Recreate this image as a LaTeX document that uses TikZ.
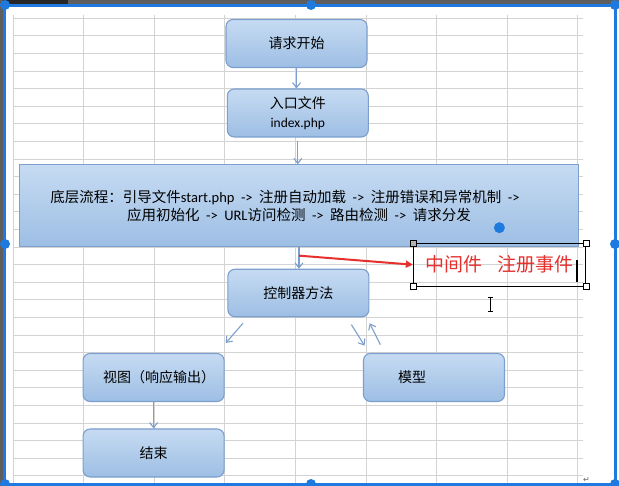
\documentclass[tikz,border=0pt]{standalone}
\usepackage{fontspec}
\setmainfont{Carlito}
\newfontfamily\cjk{Noto Sans CJK SC}
\newfontfamily\symfont{DejaVu Sans}
\usetikzlibrary{arrows.meta,calc}
\definecolor{boxtop}{HTML}{C6DBF2}
\definecolor{boxbot}{HTML}{9DBEE4}
\definecolor{boxline}{HTML}{7C9FCD}
\definecolor{arrowc}{HTML}{7E9FCC}
\definecolor{gridc}{HTML}{D3D3D3}
\definecolor{selblue}{HTML}{1F7AE0}
\definecolor{notered}{HTML}{E5302D}
\definecolor{bargray}{HTML}{5E5E5E}
\newcommand\flowto{\hspace{6.5pt}->\hspace{6.5pt}}
\tikzset{
  flowbox/.style={draw=boxline, line width=1.1pt, rounded corners=7pt,
    top color=boxtop, bottom color=boxbot, text=black,
    minimum width=141pt, minimum height=48pt, inner sep=0pt,
    font=\cjk\fontsize{14}{20}\selectfont, align=center},
  basebox/.style={draw=boxline, line width=1.1pt,
    top color=boxtop, bottom color=boxbot, text=black,
    minimum width=559pt, minimum height=82pt, inner sep=0pt,
    font=\fontsize{14.5}{17.5}\selectfont, align=center},
  flowarrow/.style={draw=arrowc, line width=1.1pt, -{Straight Barb[length=5pt,width=8pt]}},
  redarrow/.style={draw=notered, line width=2pt, -{Triangle[length=7pt,width=7pt]}},
  notebox/.style={draw=black, line width=0.9pt, minimum width=172.4pt, minimum height=42.7pt,
    inner sep=0pt, text=notered, font=\cjk\fontsize{19}{22}\selectfont},
  handle/.style={fill=selblue},
  sqhandle/.style={draw=black, fill=white, line width=0.7pt}
}
\begin{document}
\begin{tikzpicture}[x=1pt,y=-1pt]
\useasboundingbox (0,0) rectangle (619,486);
\fill[white] (0,0) rectangle (619,486);
% window chrome
\fill[bargray] (0,0) rectangle (619,4);
\fill[black!85] (0,0) rectangle (68,4);
\fill[bargray] (0,0) rectangle (3,486);
% grid
\foreach \k in {0,...,26} \draw[gridc, line width=0.9pt] (13,18.3+17.6*\k) -- (582.7,18.3+17.6*\k);
\foreach \k in {0,...,8} \draw[gridc, line width=0.9pt] (13+70.6*\k,15) -- (13+70.6*\k,483);
% selection frame
\draw[selblue, line width=2.6pt] (4.5,5.5) -- (615.5,5.5);
\draw[selblue, line width=2.6pt] (4.5,5.5) -- (4.5,486);
\draw[selblue, line width=2.6pt] (615.5,5.5) -- (615.5,486);
\draw[selblue, line width=2.6pt] (4.5,484.5) -- (619,484.5);
\foreach \p in {(5,5),(311,5),(615,5),(5,244),(615,244),(5,484),(311,484),(615,484)}
  \fill[handle] \p circle[radius=5pt];
% nodes
\node[flowbox] (start) at (296.5,43.5) {请求开始};
\node[flowbox] (entry) at (297.8,113) {入口文件\\[-1pt]{\rmfamily\fontsize{13.5}{20}\selectfont index.php}};
\node[basebox] (base) at (299,205.8) {{\cjk 底层流程：引导文件}start.php\flowto{\cjk 注册自动加载}\flowto{\cjk 注册错误和异常机制}\hspace{6.5pt}->\hspace*{28pt}\\
{\cjk 应用初始化}\flowto URL{\cjk 访问检测}\flowto{\cjk 路由检测}\flowto{\cjk 请求分发}};
\node[flowbox, minimum height=47.5pt] (ctrl) at (298.4,293) {控制器方法};
\node[flowbox] (view) at (153.6,377.5) {\hspace*{11pt}视图（响应输出）};
\node[flowbox] (model) at (434,377.5) {模型\hspace*{44pt}};
\node[flowbox] (end) at (153.6,453) {结束};
\node[notebox] (note) at (499.5,264.7) {中间件\hspace{15pt}注册事件};
% note handles and cursor
\draw[sqhandle, fill=gray!60] ($(note.north west)+(-3,-3)$) rectangle ($(note.north west)+(3,3)$);
\draw[sqhandle] ($(note.north east)+(-3,-3)$) rectangle ($(note.north east)+(3,3)$);
\draw[sqhandle] ($(note.south west)+(-3,-3)$) rectangle ($(note.south west)+(3,3)$);
\draw[sqhandle] ($(note.south east)+(-3,-3)$) rectangle ($(note.south east)+(3,3)$);
\coordinate (caret) at (577,260);
\draw[black, line width=1.6pt] (caret) -- ++(0,21.7);
\coordinate (ibeam) at (490.5,297);
\draw[black, line width=0.9pt] (ibeam) -- ++(0,14) ++(-2.5,0) -- ++(5,0) ++(0,-14) -- ++(-5,0);
\node[text=gray!80!black, font=\symfont\fontsize{8}{8}\selectfont, inner sep=0pt] (ret) at (586.5,479.5) {↵};
\fill[selblue] (499.4,227.7) circle[radius=5.5pt];
% connectors
\draw[flowarrow] (start.south) -- (start.south |- entry.north);
\draw[flowarrow] ([yshift=-3pt]entry.south) -- (entry.south |- base.north);
\draw[flowarrow] (base.south -| 299,0) -- (ctrl.north -| 299,0);
\draw[flowarrow] ([shift={(15.6,6)}]ctrl.south west) -- ([shift={(1.2,-10)}]view.north east);
\draw[flowarrow] ([shift={(-18.1,7.3)}]ctrl.south east) -- ([shift={(1.6,-7.3)}]model.north west);
\draw[flowarrow] ([shift={(17.4,-8.3)}]model.north west) -- ([shift={(0.3,6)}]ctrl.south east);
\draw[flowarrow] (view.south) -- (end.north);
\draw[redarrow] ([yshift=-8.3pt]base.south) -- (note.west);
\end{tikzpicture}
\end{document}
